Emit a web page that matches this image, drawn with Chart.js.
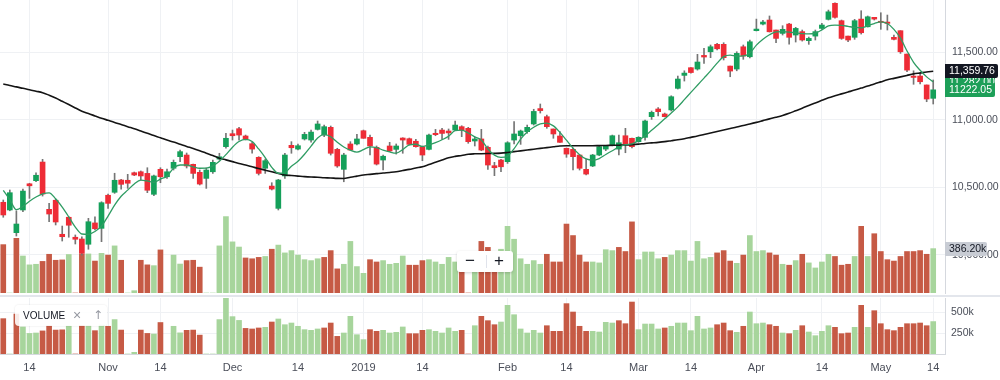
<!DOCTYPE html>
<html>
<head>
<meta charset="utf-8">
<script src="https://cdn.jsdelivr.net/npm/chart.js@4.4.0/dist/chart.umd.min.js"></script>
<style>
  body { margin: 0; background: #fff; width: 1000px; height: 380px; overflow: hidden; position: relative;
         font-family: 'Liberation Sans', Arial, sans-serif; }
  #main { position: absolute; left: 0; top: 0; }
  #vol { position: absolute; left: 0; top: 297px; }
  .sep { position: absolute; left: 0; top: 295px; width: 1000px; height: 2px; background: #e3e6ec; }
  #legend { position: absolute; left: 15px; top: 305px; width: 92px; height: 21px; border-radius: 4px;
            background: rgba(255,255,255,0.88); box-shadow: 0 0 2px rgba(0,0,0,0.12); }
  #legend span { position: absolute; top: 0; line-height: 21px; }
  #legend .t { left: 8px; font-size: 10px; color: #131722; }
  #legend .x { left: 58px; font-size: 14px; color: #9598a1; }
  #legend .u { left: 78px; font-size: 12px; color: #9598a1; font-family: 'DejaVu Sans', sans-serif; }
  #zoom { position: absolute; left: 457px; top: 251px; width: 56px; height: 21px; border-radius: 3px;
          background: #fff; box-shadow: 0 1px 3px rgba(0,0,0,0.18); }
  #zoom span { position: absolute; top: 0; line-height: 20px; font-size: 17px; color: #131722; }
  #zoom .bar { left: 29px; top: 4px; width: 1px; height: 13px; background: #e0e3eb; }
</style>
</head>
<body>
<canvas id="main" width="1000" height="296"></canvas>
<div class="sep"></div>
<canvas id="vol" width="1000" height="83"></canvas>
<div id="legend"><span class="t">VOLUME</span><span class="x">×</span><span class="u">↑</span></div>
<div id="zoom"><span style="left:8px">−</span><span class="bar"></span><span style="left:37px">+</span></div>
<script>
// daily candles, oldest first
const open = [10389,10332,10164,10332,10526,10549,10687,10337,10404,10152,
  10278,10130,10117,10078,10236,10196,10441,10463,10554,10552,
  10608,10615,10603,10448,10633,10578,10641,10727,10739,10670,
  10611,10566,10615,10709,10801,10897,10934,10880,10823,10722,
  10641,10509,10344,10584,10811,10783,10858,10850,10929,10887,
  10944,10781,10633,10821,10821,10919,10870,10796,10702,10806,
  10781,10865,10860,10841,10801,10781,10900,10924,10917,10924,
  10949,10937,10843,10858,10796,10660,10702,10690,10850,10882,
  10912,10969,11083,11023,10932,10880,10789,10781,10739,10633,
  10658,10739,10783,10808,10783,10882,10863,10838,10870,11023,
  11080,11043,11073,11233,11329,11386,11376,11477,11504,11559,
  11559,11398,11376,11541,11467,11660,11709,11739,11665,11640,
  11709,11628,11653,11586,11620,11677,11744,11863,11734,11620,
  11611,11746,11689,11759,11730,11724,11611,11660,11487,11324,
  11324,11258,11159];
const high = [10406,10480,10326,10487,10530,10608,10707,10381,10411,10213,
  10282,10147,10134,10270,10282,10393,10450,10604,10559,10596,
  10613,10621,10645,10591,10645,10635,10702,10776,10754,10672,
  10628,10643,10702,10752,10900,10924,10944,10887,10833,10727,
  10709,10534,10559,10752,10838,10821,10907,10924,10991,10961,
  10954,10789,10752,10838,10892,10924,10887,10806,10739,10833,
  10821,10867,10865,10855,10806,10895,10929,10937,10932,10991,
  10956,10944,10872,10929,10806,10685,10707,10838,10986,10924,
  10961,11078,11117,11035,10932,10912,10791,10791,10739,10709,
  10744,10811,10806,10887,10887,10937,10865,10875,10998,11065,
  11090,11050,11178,11324,11363,11386,11485,11529,11554,11566,
  11571,11398,11504,11554,11591,11746,11737,11769,11665,11697,
  11714,11685,11665,11613,11665,11714,11813,11867,11739,11620,
  11744,11808,11769,11759,11793,11776,11628,11660,11487,11363,
  11349,11258,11295];
const low = [10278,10326,10139,10319,10418,10541,10435,10245,10221,10102,
  10130,10080,9998,10041,10184,10097,10344,10455,10487,10492,
  10586,10554,10460,10438,10534,10566,10628,10690,10643,10566,
  10517,10492,10603,10702,10789,10850,10850,10850,10752,10591,
  10603,10480,10332,10566,10752,10776,10850,10835,10924,10875,
  10739,10648,10541,10776,10813,10863,10739,10665,10628,10764,
  10746,10752,10813,10798,10697,10776,10882,10855,10855,10919,
  10875,10826,10806,10771,10633,10586,10615,10677,10821,10818,
  10900,10961,11050,10937,10863,10833,10722,10628,10628,10591,
  10653,10734,10771,10806,10739,10756,10791,10833,10850,11003,
  11028,11021,11065,11228,11287,11346,11368,11418,11460,11517,
  11443,11319,11363,11448,11458,11658,11702,11650,11571,11628,
  11561,11576,11583,11559,11591,11672,11739,11752,11596,11578,
  11596,11635,11687,11739,11670,11665,11591,11492,11356,11263,
  11265,11134,11117];
const close = [10295,10460,10228,10472,10511,10589,10450,10302,10243,10134,
  10219,10115,10011,10245,10193,10386,10381,10552,10522,10530,
  10591,10584,10478,10584,10578,10615,10685,10764,10658,10603,
  10524,10628,10685,10726,10863,10882,10887,10860,10783,10603,
  10697,10487,10554,10739,10793,10808,10892,10909,10969,10949,
  10752,10658,10739,10776,10858,10863,10806,10672,10730,10769,
  10806,10850,10818,10801,10739,10887,10890,10899,10903,10961,
  10924,10838,10858,10776,10665,10645,10652,10830,10895,10917,
  10944,11062,11068,10949,10895,10833,10746,10727,10641,10598,
  10739,10801,10804,10882,10830,10821,10801,10870,10991,11055,
  11060,11023,11171,11302,11346,11350,11428,11465,11541,11526,
  11460,11361,11492,11472,11578,11672,11724,11652,11603,11670,
  11611,11677,11591,11603,11653,11702,11800,11759,11603,11591,
  11734,11645,11763,11746,11722,11714,11596,11504,11368,11314,
  11282,11154,11222.05];
// volume in thousands
const volumeK = [421,0,476,322,245,250,275,337,285,288,
  335,0,340,340,278,345,330,410,285,0,
  20,285,245,238,375,0,330,252,282,285,
  225,0,0,410,665,445,400,305,298,310,
  318,381,417,349,369,330,290,282,298,310,
  369,210,250,449,230,171,290,270,282,250,
  258,322,242,242,282,290,270,250,310,270,
  282,0,337,449,397,349,381,580,468,298,
  250,282,250,337,270,270,600,500,330,270,
  270,262,377,369,397,361,619,290,357,357,
  298,310,330,369,369,278,449,298,310,349,
  369,278,258,330,500,361,369,349,330,250,
  242,282,337,262,218,270,337,318,242,250,
  318,580,318,516,361,290,278,318,361,361,
  369,337,386.2];
// short moving average (green) and long moving average (black)
const maFast = [10478,10408,10334,10358,10396,10428,10451,10459,10415,10353,
  10281,10205,10154,10152,10173,10212,10287,10368,10434,10479,
  10525,10553,10547,10537,10561,10582,10642,10665,10665,10652,
  10641,10642,10659,10693,10742,10797,10839,10855,10839,10784,
  10720,10648,10604,10609,10656,10693,10745,10805,10865,10892,
  10874,10834,10799,10775,10761,10779,10800,10794,10776,10762,
  10753,10779,10814,10819,10802,10814,10831,10852,10878,10919,
  10923,10902,10873,10850,10784,10738,10721,10731,10786,10857,
  10910,10945,10969,10976,10955,10907,10849,10790,10742,10710,
  10701,10713,10743,10771,10797,10816,10822,10846,10881,10922,
  10963,11007,11050,11096,11149,11203,11256,11309,11362,11420,
  11468,11479,11471,11473,11495,11553,11597,11630,11651,11653,
  11650,11644,11639,11636,11642,11666,11696,11702,11700,11692,
  11684,11681,11697,11713,11725,11713,11670,11605,11510,11426,
  11367,11318,11282];
const maSlow = [11265,11254,11244,11233,11223,11212,11201,11182,11161,11137,
  11113,11088,11064,11046,11029,11012,10996,10980,10965,10949,
  10934,10917,10900,10883,10867,10850,10835,10819,10803,10788,
  10771,10753,10735,10716,10703,10690,10677,10665,10652,10639,
  10627,10615,10603,10591,10587,10583,10579,10576,10574,10571,
  10569,10566,10565,10575,10583,10591,10596,10601,10606,10610,
  10615,10624,10633,10643,10652,10668,10685,10702,10719,10729,
  10736,10745,10748,10749,10750,10751,10753,10758,10764,10770,
  10776,10782,10788,10794,10800,10806,10808,10808,10808,10808,
  10808,10809,10810,10811,10812,10813,10816,10820,10825,10829,
  10833,10838,10845,10852,10860,10870,10880,10891,10902,10913,
  10924,10935,10946,10958,10969,10981,10994,11007,11019,11032,
  11048,11067,11086,11106,11125,11144,11163,11178,11192,11206,
  11220,11235,11250,11266,11281,11296,11307,11318,11329,11340,
  11347,11354,11359.76];
// time axis: bar index of each label, and its text
const tickPos = [4,16,24,35,45,55,64,77,86,97,105,115,125,134,142];
const tickLabels = ['14','Nov','14','Dec','14','2019','14','Feb','14','Mar','14','Apr','14','May','14'];
const priceTicks = [10000,10500,11000,11500];
const volTicks = [250,500];

const FONT = "'Liberation Sans', Arial, sans-serif";
Chart.defaults.font.family = FONT;
const GREEN = '#15a05a', RED = '#ee2c36', WICK = '#757575';
const VGREEN = '#a7d59c', VRED = '#c65a45';
const GRID = '#eff1f4', AXIS = '#d5d8de', TXT = '#4a4e59';

const idx = close.map((_, i) => i);
const last = close.length - 1;
const volColor = idx.map(i => (i === 0 ? close[0] >= open[0] : close[i] >= close[i - 1]) ? VGREEN : VRED);
const setX = s => { s.ticks = tickPos.map(v => ({ value: v })); };
const fmt = v => v.toLocaleString('en-US', { minimumFractionDigits: 2, maximumFractionDigits: 2 });
// no extra room for half tick labels at the ends of the axes
const noPadY = w => s => { s.width = w; s.paddingTop = 0; s.paddingBottom = 0; };
const noPadX = h => s => { s.height = h; s.paddingLeft = 0; s.paddingRight = 0; };

const priceLabels = {
  id: 'priceLabels',
  afterDraw(chart) {
    const ctx = chart.ctx, y = chart.scales.y, yv = chart.scales.yv;
    const x0 = chart.chartArea.right;
    ctx.save();
    ctx.font = '10.5px ' + FONT;
    ctx.textBaseline = 'middle';
    function box(py, w, bg, fg, text) {
      ctx.fillStyle = bg;
      ctx.beginPath();
      ctx.roundRect(x0, Math.round(py) - 7, w, 14, [0, 2, 2, 0]);
      ctx.fill();
      ctx.fillStyle = fg;
      ctx.fillText(text, x0 + 4, Math.round(py) + 0.5);
    }
    box(y.getPixelForValue(maFast[last]), 50, '#1d9f58', '#fff', fmt(maFast[last]));
    box(y.getPixelForValue(maSlow[last]), 53, '#131722', '#fff', fmt(maSlow[last]));
    box(y.getPixelForValue(close[last]), 50, '#1d9f58', '#fff', close[last].toFixed(2));
    box(yv.getPixelForValue(volumeK[last]), 42, '#c8ccd4', '#131722', volumeK[last].toFixed(2) + 'k');
    ctx.restore();
  }
};

new Chart(document.getElementById('main'), {
  type: 'bar',
  data: {
    datasets: [
      { type: 'line', label: 'MA fast', data: idx.map(i => ({ x: i, y: maFast[i] })), borderColor: '#2f9c63',
        borderWidth: 1.3, pointRadius: 0, cubicInterpolationMode: 'monotone', order: 1 },
      { type: 'line', label: 'MA slow', data: idx.map(i => ({ x: i, y: maSlow[i] })), borderColor: '#141414',
        borderWidth: 1.6, pointRadius: 0, cubicInterpolationMode: 'monotone', order: 2 },
      { label: 'body', data: idx.map(i => ({ x: i, y: [open[i], close[i]] })),
        backgroundColor: idx.map(i => close[i] >= open[i] ? GREEN : RED),
        barThickness: 5, minBarLength: 1, grouped: false, order: 3 },
      { label: 'wick', data: idx.map(i => ({ x: i, y: [low[i], high[i]] })), backgroundColor: WICK,
        barThickness: 1, grouped: false, order: 4 },
      { label: 'volume', data: idx.map(i => ({ x: i, y: volumeK[i] })), backgroundColor: volColor,
        barThickness: 5, grouped: false, order: 5, yAxisID: 'yv' }
    ]
  },
  options: {
    responsive: false, animation: false, devicePixelRatio: 1, events: [],
    layout: { padding: { top: 0, left: 0, right: 0, bottom: 3 } },
    plugins: { legend: { display: false }, tooltip: { enabled: false } },
    scales: {
      x: { type: 'linear', min: -0.5, max: 143.8, offset: false, afterBuildTicks: setX,
           afterFit: noPadX(0),
           ticks: { display: false }, grid: { color: GRID, drawTicks: false, offset: false }, border: { display: false } },
      y: { position: 'right', min: 9717, max: 11887.4,
           afterBuildTicks: s => { s.ticks = priceTicks.map(v => ({ value: v })); },
           afterFit: noPadY(55),
           ticks: { padding: 7, color: TXT, font: { size: 10.5 }, callback: v => fmt(v) },
           grid: { color: GRID, drawTicks: false }, border: { display: true, color: AXIS } },
      yv: { display: false, min: 0, max: 2550 }
    }
  },
  plugins: [priceLabels]
});

new Chart(document.getElementById('vol'), {
  type: 'bar',
  data: {
    datasets: [
      { label: 'volume', data: idx.map(i => ({ x: i, y: volumeK[i] })), backgroundColor: volColor,
        barThickness: 5, grouped: false }
    ]
  },
  options: {
    responsive: false, animation: false, devicePixelRatio: 1, events: [],
    layout: { padding: { top: 1, left: 0, right: 0, bottom: 0 } },
    plugins: { legend: { display: false }, tooltip: { enabled: false } },
    scales: {
      x: { type: 'linear', min: -0.5, max: 143.8, offset: false, afterBuildTicks: setX,
           afterFit: noPadX(26),
           ticks: { padding: 7, color: TXT, font: { size: 11 }, maxRotation: 0, autoSkip: false,
                    callback: (v, i) => tickLabels[i] },
           grid: { color: GRID, drawTicks: false, offset: false }, border: { display: true, color: AXIS } },
      y: { position: 'right', min: 0, max: 667,
           afterBuildTicks: s => { s.ticks = volTicks.map(v => ({ value: v })); },
           afterFit: noPadY(55),
           ticks: { padding: 6, color: TXT, font: { size: 10.5 }, callback: v => v + 'k' },
           grid: { color: GRID, drawTicks: false }, border: { display: true, color: AXIS } }
    }
  }
});
</script>
</body>
</html>
